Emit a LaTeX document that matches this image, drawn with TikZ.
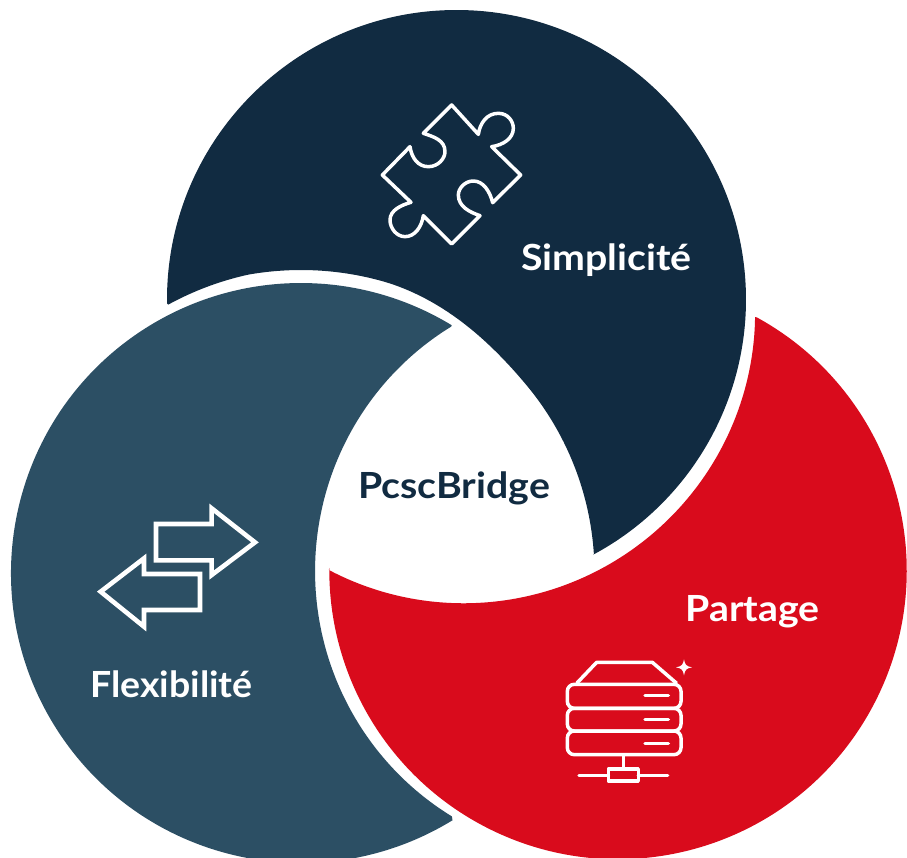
\documentclass[tikz,border=0pt]{standalone}
\usepackage{fontspec}
\setmainfont[FakeStretch=1.09]{Lato}
\definecolor{navy}{HTML}{112B41}
\definecolor{slate}{HTML}{2C4F64}
\definecolor{crimson}{HTML}{D90B1C}
\tikzset{
  blob/.style={fill=#1,draw=none},
  lbl/.style={anchor=base,inner sep=0pt,font=\bfseries\fontsize{36}{36}\selectfont},
  iconline/.style={draw=white,line width=#1,fill=none},
  iconline/.default=3.5pt,
  icon/.style={x=0.33333pt,y=-0.33333pt},
  declare function={
    sstep(\u)=min(1,max(0,\u))*min(1,max(0,\u))*(3-2*min(1,max(0,\u)));
    rnavy(\t)=293.5+9.5*(1-sstep((\t+75)/35))-3.5*max(0,(-100-\t)/16);
    rred(\t)=305-0.002*(\t-60)*(\t-60);
    rslate(\t)=305-0.0025*(\t-176)*(\t-176);
  }
}
\begin{document}
\begin{tikzpicture}[x=1pt,y=-1pt]
\useasboundingbox (0,0) rectangle (907,858);
\clip (0,0) rectangle (907,858);
\fill[white] (0,0) rectangle (907,858);
% navy: centre (456.5,299.5), cut around (301,573)
\fill[blob=navy] (456.5,299.5) ++(179.2:289.5) arc[start angle=179.2,end angle=421.8,radius=289.5]
  -- plot[domain=-3.7:-116.3,samples=90,variable=\t,smooth] ({301+rnavy(\t)*cos(\t)},{573+rnavy(\t)*sin(\t)}) -- cycle;
% slate: centre (301,573), cut around (620,570)
\fill[blob=slate] (301,573) ++(58.5:290) arc[start angle=58.5,end angle=301.3,radius=290]
  -- plot[domain=235.3:124.3,samples=90,variable=\t,smooth] ({620+rslate(\t)*cos(\t)},{570+rslate(\t)*sin(\t)}) -- cycle;
% red: centre (618,570.5), cut around (457,300)
\fill[blob=crimson] (618,570.5) ++(-61.3:288.7) arc[start angle=-61.3,end angle=180.5,radius=288.7]
  -- plot[domain=115.4:3.3,samples=90,variable=\t,smooth] ({457+rred(\t)*cos(\t)},{300+rred(\t)*sin(\t)}) -- cycle;
% labels
\node[lbl,text=white] (simp) at (606.5,271) {Simplicité};
\node[lbl,text=navy] (core) at (454,498) {PcscBridge};
\node[lbl,text=white] (part) at (752.5,621) {Partage};
\node[lbl,text=white] (flex) at (171.5,697) {\addfontfeature{FakeStretch=1.04}Flexibilité};
% puzzle
\begin{scope}[shift={(370,95)},icon]
\draw[iconline,line join=round] (245,30) -- (325,118) .. controls (330,85) and (350,55) .. (385,55) .. controls (415,55) and (430,80) .. (430,100) .. controls (430,130) and (400,150) .. (365,155) -- (452,240) -- (368,323) .. controls (360,290) and (340,258) .. (310,258) .. controls (285,258) and (265,280) .. (265,300) .. controls (265,335) and (300,352) .. (330,362) -- (245,447) -- (160,362) .. controls (155,395) and (135,425) .. (105,425) .. controls (80,425) and (60,400) .. (60,375) .. controls (60,345) and (95,330) .. (123,322) -- (37,240) -- (120,155) .. controls (125,190) and (145,215) .. (175,215) .. controls (205,215) and (225,190) .. (225,170) .. controls (225,135) and (190,125) .. (160,115) -- cycle;
\end{scope}
% arrows
\begin{scope}[shift={(90,495)},icon]
\draw[iconline=4.6pt,miter limit=10] (198,87) -- (365,87) -- (365,40) -- (495,142) -- (365,240) -- (365,196) -- (198,196) -- cycle;
\draw[iconline=4.6pt,miter limit=10] (32,290) -- (162,190) -- (162,237) -- (330,237) -- (330,345) -- (162,345) -- (162,395) -- cycle;
\end{scope}
% server
\begin{scope}[shift={(555,650)},icon]
\draw[iconline,line join=round] (65,100) -- (125,37) -- (292,37) -- (365,100);
\draw[iconline,rounded corners=7pt] (37,103) rectangle (378,175);
\draw[iconline,rounded corners=7pt] (37,175) rectangle (378,243);
\draw[iconline,rounded corners=7pt] (37,243) rectangle (378,314);
\draw[iconline,line cap=round] (270,137) -- (340,137);
\draw[iconline,line cap=round] (270,208) -- (340,208);
\draw[iconline,line cap=round] (270,280) -- (340,280);
\draw[iconline] (205,314) -- (205,357);
\draw[iconline,line join=round] (160,357) rectangle (250,393);
\draw[iconline,line cap=round] (72,376) -- (160,376);
\draw[iconline,line cap=round] (250,376) -- (338,376);
\fill[white] (387,28) .. controls (390,45) and (394,49) .. (411,52) .. controls (394,55) and (390,59) .. (387,76) .. controls (384,59) and (380,55) .. (363,52) .. controls (380,49) and (384,45) .. (387,28) -- cycle;
\end{scope}
\end{tikzpicture}
\end{document}
